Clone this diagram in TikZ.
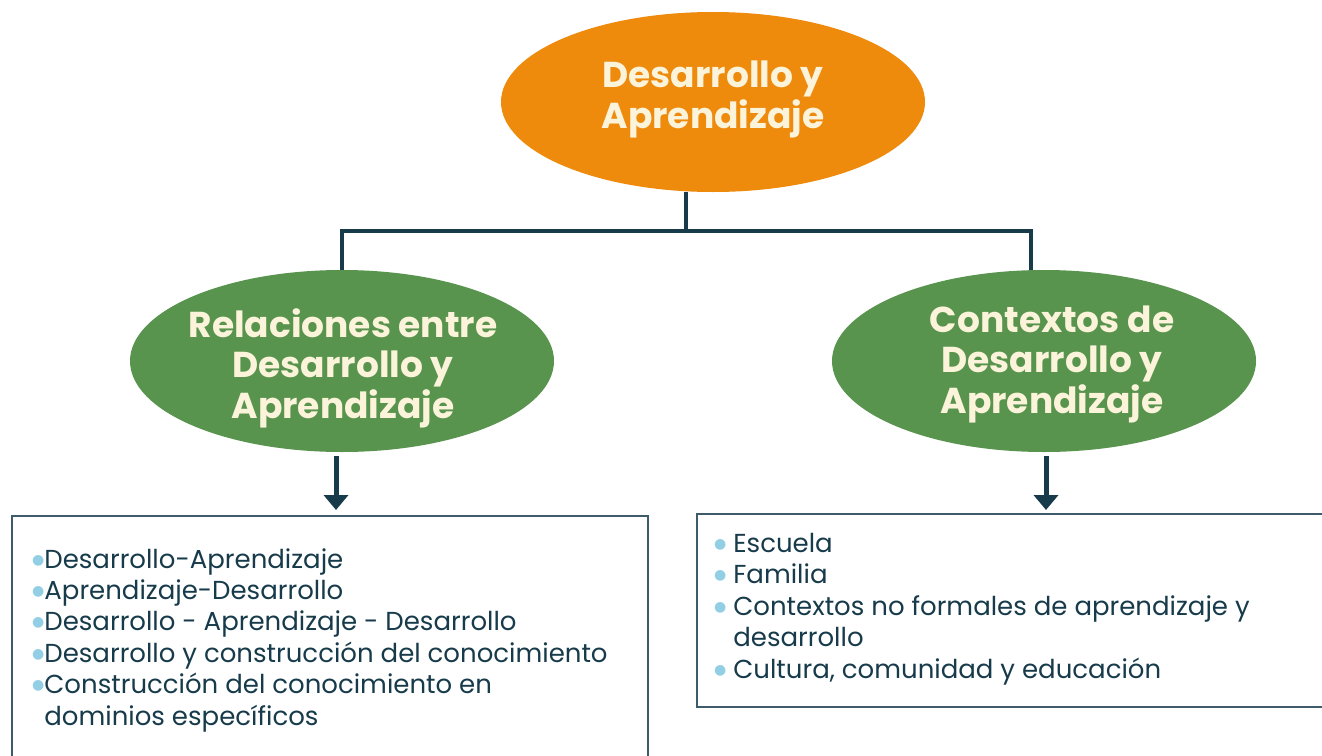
\documentclass[tikz,border=0pt]{standalone}
\usepackage{fontspec}
\setmainfont{Poppins}
\newfontfamily\symfont{DejaVu Sans}
\usetikzlibrary{shapes.geometric,arrows.meta,calc}
\definecolor{orangeC}{HTML}{EE8A0C}
\definecolor{greenC}{HTML}{58944D}
\definecolor{creamC}{HTML}{FBF3DA}
\definecolor{darkC}{HTML}{173B4B}
\definecolor{boxC}{HTML}{3E5B6B}
\definecolor{bulletC}{HTML}{92CFE4}
\newcommand\bul{\raisebox{4pt}{\color{bulletC}\symfont\fontsize{14}{14}\selectfont●}}
\tikzset{
  ell/.style={ellipse, inner sep=0pt, minimum width=424pt},
  topell/.style={ell, fill=orangeC, minimum height=180pt},
  subell/.style={ell, fill=greenC, minimum height=182pt},
  titletxt/.style={text=creamC, font=\bfseries\fontsize{36}{40.5}\selectfont,
    align=center, inner sep=0pt, anchor=base},
  conn/.style={draw=darkC, line width=3.2pt},
  arr/.style={draw=darkC, line width=5pt, -{Triangle[width=24pt,length=15pt]}},
  listbox/.style={draw=boxC, line width=2.2pt, rectangle, inner sep=0pt, anchor=north west},
  listtxt/.style={text=darkC, font=\fontsize{26}{31.4}\selectfont, align=left, inner sep=0pt, anchor=base west}
}
\begin{document}
\begin{tikzpicture}[x=1pt,y=1pt]
\useasboundingbox (0,0) rectangle (1322,-755);
\clip (0,0) rectangle (1322,-755);
\fill[white] (0,0) rectangle (1322,-755);
\node[topell] (top) at (713,-102) {};
\node[subell] (rel) at (342,-361) {};
\node[subell] (ctx) at (1044,-361) {};
\node[titletxt] (toptxt) at (713,-128) {Desarrollo y\\Aprendizaje};
\node[titletxt] (reltxt) at (343,-418) {Relaciones entre\\Desarrollo y\\Aprendizaje};
\node[titletxt] (ctxtxt) at (1052,-413) {Contextos de\\Desarrollo y\\Aprendizaje};
\coordinate (j) at (686,-231);
\draw[conn] (top.south -| j) -- (j);
\draw[conn] (rel.north) |- (j) -| ([xshift=-13pt]ctx.north);
\node[listbox, minimum width=636pt, minimum height=300pt] (relbox) at (11,-515) {};
\node[listbox, minimum width=640pt, minimum height=193pt] (ctxbox) at (696,-513) {};
\draw[arr, shorten <=4pt, shorten >=5pt] ([xshift=-6pt]rel.south) -- ([xshift=-6pt]rel.south |- relbox.north);
\draw[arr, shorten <=4pt, shorten >=3pt] ([xshift=2pt]ctx.south) -- ([xshift=2pt]ctx.south |- ctxbox.north);
\node[listtxt] (rellist) at (32,-725) {\bul Desarrollo-Aprendizaje\\
\bul Aprendizaje-Desarrollo\\
\bul Desarrollo - Aprendizaje - Desarrollo\\
\bul Desarrollo y construcción del conocimiento\\
\bul Construcción del conocimiento en\\
\phantom{\bul}dominios específicos};
\node[listtxt] (ctxlist) at (714,-678) {\bul\ Escuela\\
\bul\ Familia\\
\bul\ Contextos no formales de aprendizaje y\\
\phantom{\bul\ }desarrollo\\
\bul\ Cultura, comunidad y educación};
\end{tikzpicture}
\end{document}
